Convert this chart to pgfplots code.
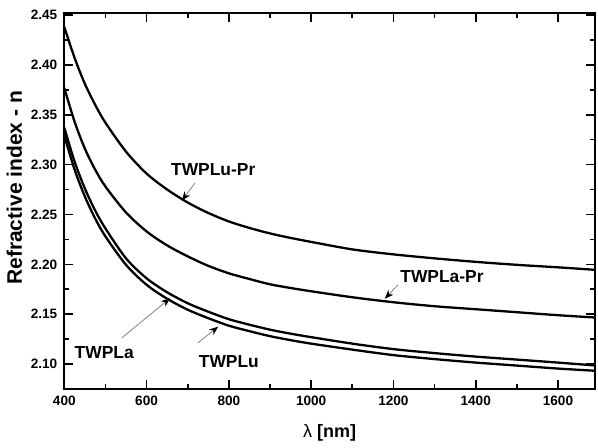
\documentclass[border=0pt]{standalone}
\usepackage{fontspec}
\setmainfont{Liberation Sans}
\usepackage{pgfplots}
\pgfplotsset{compat=1.18}
\usetikzlibrary{arrows.meta}

\begin{document}
\begin{tikzpicture}
\begin{axis}[
  at={(0,0)}, anchor=south west,
  scale only axis,
  width=265.35pt, height=188pt,
  xmin=400, xmax=1690,
  ymin=2.075, ymax=2.452,
  xtick={400,600,...,1600},
  minor x tick num=1,
  ytick={2.10,2.15,...,2.46},
  minor y tick num=1,
  tick align=inside,
  major tick length=4.5pt,
  minor tick length=2.5pt,
  every tick/.style={black, line width=0.8pt},
  axis line style={line width=1pt},
  /pgf/number format/assume math mode=true,
  yticklabel style={/pgf/number format/.cd, fixed, fixed zerofill, precision=2},
  xticklabel style={/pgf/number format/.cd, fixed, 1000 sep={}},
  ticklabel style={font=\fontsize{6.8}{8}\selectfont\bfseries},
  xlabel={\textmd{λ} [nm]},
  ylabel={Refractive index - n},
  xlabel style={font=\fontsize{9}{10}\selectfont\bfseries, at={(axis description cs:0.5,-0.117)}, anchor=center},
  ylabel style={font=\fontsize{10.5}{12}\selectfont\bfseries, at={(axis description cs:-0.094,0.535)}, anchor=center, rotate=0},
  clip=false,
]
% TWPLu-Pr
\addplot[black, line width=1.15pt, smooth] coordinates {
  (400,2.438) (425,2.407) (450,2.381) (475,2.360) (500,2.342) (550,2.313)
  (600,2.291) (650,2.275) (700,2.262) (750,2.2515) (800,2.243) (850,2.2365)
  (900,2.231) (950,2.2265) (1000,2.2225)
  (1100,2.215) (1200,2.210) (1300,2.206) (1400,2.2025) (1500,2.1995)
  (1600,2.197) (1690,2.1945)
};
% TWPLa-Pr
\addplot[black, line width=1.15pt, smooth] coordinates {
  (400,2.377) (425,2.343) (450,2.316) (475,2.295) (500,2.278) (550,2.252)
  (600,2.233) (650,2.219) (700,2.208) (750,2.1985) (800,2.191) (850,2.1853)
  (900,2.180) (950,2.1763) (1000,2.173)
  (1100,2.167) (1200,2.162) (1300,2.158) (1400,2.155) (1500,2.152)
  (1600,2.149) (1690,2.1467)
};
% TWPLa
\addplot[black, line width=1.15pt, smooth] coordinates {
  (400,2.337) (425,2.303) (450,2.276) (475,2.254) (500,2.236) (550,2.206)
  (600,2.186) (650,2.172) (700,2.161) (750,2.1525) (800,2.145) (850,2.1395)
  (900,2.1345) (950,2.1305) (1000,2.127)
  (1100,2.1205) (1200,2.115) (1300,2.111) (1400,2.1075) (1500,2.1045)
  (1600,2.1015) (1690,2.0986)
};
% TWPLu
\addplot[black, line width=1.15pt, smooth] coordinates {
  (400,2.329) (425,2.295) (450,2.268) (475,2.246) (500,2.228) (550,2.1995)
  (600,2.1795) (650,2.1655) (700,2.1545) (750,2.146) (800,2.1385) (850,2.133)
  (900,2.128) (950,2.124) (1000,2.1205)
  (1100,2.1145) (1200,2.109) (1300,2.105) (1400,2.1015) (1500,2.0985)
  (1600,2.0955) (1690,2.0933)
};
% labels and arrows
\tikzset{lab/.style={font=\fontsize{8.7}{10}\selectfont\bfseries, inner sep=0pt},
         arr/.style={gray, line width=0.4pt, -{Stealth[black,length=4.5pt,width=3.5pt]}}}
\node[lab] at (axis cs:762,2.2947) {TWPLu-Pr};
\draw[arr] (axis cs:718,2.2817) -- (axis cs:686,2.264);
\node[lab] at (axis cs:1318,2.1875) {TWPLa-Pr};
\draw[arr] (axis cs:1211,2.1795) -- (axis cs:1179,2.1655);
\node[lab] at (axis cs:497,2.1113) {TWPLa};
\draw[arr] (axis cs:540,2.1264) -- (axis cs:657,2.166);
\node[lab] at (axis cs:800,2.1023) {TWPLu};
\draw[arr] (axis cs:725,2.1213) -- (axis cs:774,2.1375);
\end{axis}
\pgfresetboundingbox
\path[use as bounding box] (-32.15pt,-29pt) rectangle (266.85pt,194.5pt);
\end{tikzpicture}
\end{document}
